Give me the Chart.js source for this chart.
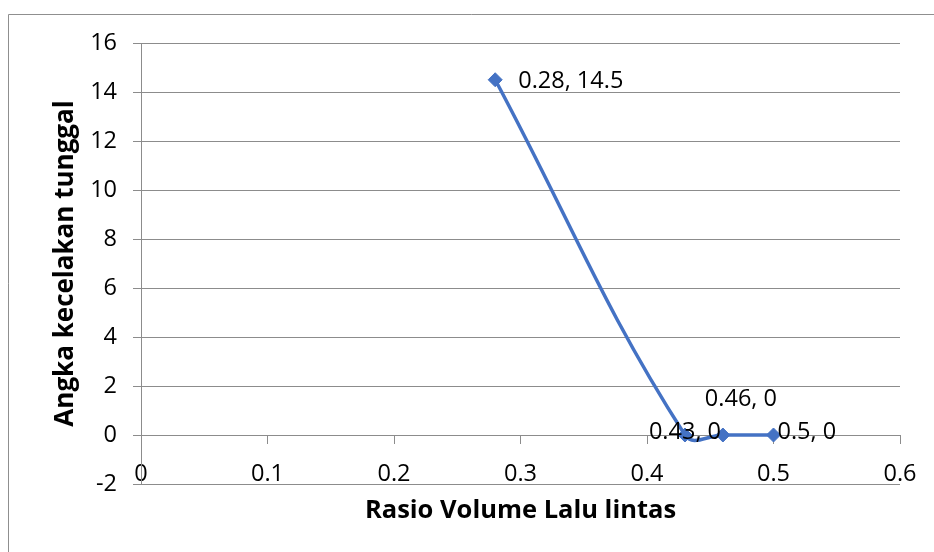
<!DOCTYPE html>
<html><head><meta charset="utf-8">
<script src="https://cdn.jsdelivr.net/npm/chart.js@4"></script>
<style>html,body{margin:0;padding:0;background:#fff;} canvas{display:block;}</style>
</head><body>
<canvas id="c" width="934" height="552"></canvas>
<script>
const xValues = [0.28, 0.43, 0.46, 0.5];
const yValues = [14.5, 0, 0, 0];
const xTickLabels = ['0', '0.1', '0.2', '0.3', '0.4', '0.5', '0.6'];
const yTickLabels = ['-2', '0', '2', '4', '6', '8', '10', '12', '14', '16'];
const xTitle = 'Rasio Volume Lalu lintas';
const yTitle = 'Angka kecelakan tunggal';
const pointLabels = xValues.map((x, i) => x + ', ' + yValues[i]);

const FONT = '"Open Sans", sans-serif';
const BLUE = '#4472C4';
const GRID = '#8c8c8c';
const labelOffsets = [
  {dx: 23, dy: 0, align: 'left'},
  {dx: 0, dy: -4, align: 'center'},
  {dx: 18, dy: -37, align: 'center'},
  {dx: 4, dy: -4, align: 'left'}
];

const frame = {
  id: 'frame',
  beforeDraw(chart) {
    const ctx = chart.ctx;
    ctx.save();
    ctx.fillStyle = '#fff';
    ctx.fillRect(0, 0, chart.width, chart.height);
    ctx.strokeStyle = '#8f8f8f';
    ctx.lineWidth = 1;
    ctx.beginPath();
    ctx.moveTo(8.5, chart.height);
    ctx.lineTo(8.5, 14.5);
    ctx.lineTo(chart.width, 14.5);
    ctx.stroke();
    ctx.restore();
  }
};

const dataLabels = {
  id: 'dataLabels',
  afterDatasetsDraw(chart) {
    const ctx = chart.ctx;
    const meta = chart.getDatasetMeta(0);
    ctx.save();
    ctx.font = '23.5px ' + FONT;
    ctx.fillStyle = '#000';
    ctx.textBaseline = 'alphabetic';
    meta.data.forEach((pt, i) => {
      const o = labelOffsets[i];
      ctx.textAlign = o.align;
      ctx.fillText(pointLabels[i], pt.x + o.dx, pt.y + o.dy + 23.5 * 0.357);
    });
    ctx.restore();
  }
};

new Chart(document.getElementById('c'), {
  type: 'scatter',
  data: {
    datasets: [{
      data: xValues.map((x, i) => ({x: x, y: yValues[i]})),
      showLine: true,
      borderColor: BLUE,
      backgroundColor: BLUE,
      borderWidth: 3.5,
      tension: 0.4,
      pointStyle: 'rectRot',
      pointRadius: 7,
      pointHoverRadius: 7,
      pointBorderWidth: 1,
      pointBackgroundColor: BLUE,
      pointBorderColor: BLUE,
      clip: false
    }]
  },
  options: {
    responsive: false,
    animation: false,
    events: [],
    layout: {padding: {top: 43, right: 34, left: 0, bottom: 0}},
    plugins: {legend: {display: false}, tooltip: {enabled: false}},
    scales: {
      x: {
        type: 'linear',
        position: {y: 0},
        min: 0, max: 0.6,
        ticks: {stepSize: 0.1, callback: (v, i) => xTickLabels[i], font: {size: 23.5, family: FONT}, color: '#000', padding: 17, maxRotation: 0, autoSkip: false},
        grid: {display: true, drawOnChartArea: false, drawTicks: true, tickLength: 8, color: GRID},
        border: {display: true, color: GRID},
        title: {display: false}
      },
      x2: {
        type: 'linear',
        axis: 'x',
        position: 'bottom',
        min: 0, max: 0.6,
        ticks: {display: false},
        grid: {display: false, drawTicks: false},
        border: {display: false},
        title: {display: true, text: xTitle, font: {size: 25.5, weight: 'bold', family: FONT}, color: '#000', padding: {top: 0, bottom: 26}},
        afterFit(s) { s.height = 68; }
      },
      y: {
        type: 'linear',
        position: 'left',
        min: -2, max: 16,
        ticks: {stepSize: 2, callback: (v, i) => yTickLabels[i], font: {size: 23.5, family: FONT}, color: '#000', padding: 16},
        grid: {color: GRID, tickLength: 8, drawTicks: true},
        border: {display: true, color: GRID},
        title: {display: true, text: yTitle, font: {size: 26, weight: 'bold', family: FONT}, color: '#000', padding: {top: 50, bottom: 0}},
        afterFit(s) { s.width = 141; }
      }
    }
  },
  plugins: [frame, dataLabels]
});
</script>
</body></html>
